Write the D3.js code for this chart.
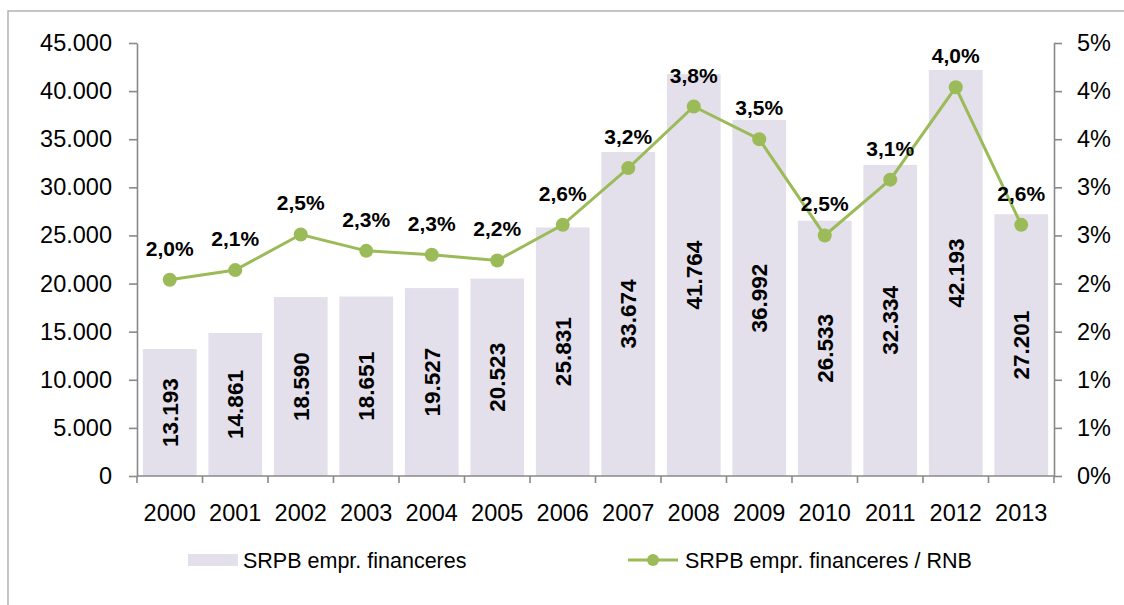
<!DOCTYPE html>
<html>
<head>
<meta charset="utf-8">
<script src="https://cdn.jsdelivr.net/npm/d3@7"></script>
<style>
  body { margin: 0; background: #fff; }
  svg { display: block; font-family: "Liberation Sans", Arial, sans-serif; }
  .axes path, .axes line { stroke: #898989; stroke-width: 1.6; }
  .axes text { font-size: 23.5px; fill: #000; }
  .barlab { font-size: 22.5px; font-weight: bold; }
  .pctlab { font-size: 21px; font-weight: bold; }
  .legend text { font-size: 21.5px; }
</style>
</head>
<body>
<div id="chart"></div>
<script>
// Data
const years = ["2000","2001","2002","2003","2004","2005","2006","2007","2008","2009","2010","2011","2012","2013"];
const srpb = [13193, 14861, 18590, 18651, 19527, 20523, 25831, 33674, 41764, 36992, 26533, 32334, 42193, 27201];
const srpbRnb = [2.04, 2.14, 2.51, 2.34, 2.30, 2.24, 2.61, 3.20, 3.84, 3.50, 2.50, 3.08, 4.04, 2.61];
const leftTicks = [0, 5000, 10000, 15000, 20000, 25000, 30000, 35000, 40000, 45000];
const rightTicks = [0, 0.5, 1, 1.5, 2, 2.5, 3, 3.5, 4, 4.5];
const rightTickLabels = ["0%", "1%", "1%", "2%", "2%", "3%", "3%", "4%", "4%", "5%"];
const seriesNames = ["SRPB empr. financeres", "SRPB empr. financeres / RNB"];

// chart size and plot edges
const W = 1124, H = 605;
const pl = 137, pr = 1054, pt = 43, pb = 476;

const locale = d3.formatLocale({ decimal: ",", thousands: ".", grouping: [3], currency: ["", "€"] });
const fmtInt = locale.format(",d");
const fmtPct = locale.format(".1f");

const svg = d3.select("#chart").append("svg")
    .attr("width", W)
    .attr("height", H);

// outer border of the chart area
svg.append("rect")
    .attr("x", 8).attr("y", 11)
    .attr("width", W + 20).attr("height", H + 20)
    .attr("fill", "none")
    .attr("stroke", "#a6a6a6")
    .attr("stroke-width", 1.3);

// Scales
const x = d3.scaleBand().domain(years).range([pl, pr])
    .paddingInner(0.18).paddingOuter(0.09);
const y = d3.scaleLinear().domain([0, 45000]).range([pb, pt]);
const y2 = d3.scaleLinear().domain([0, 4.5]).range([pb, pt]);

// Bars
svg.selectAll(".bar")
    .data(srpb)
    .join("rect")
    .attr("class", "bar")
    .attr("x", (d, i) => x(years[i]))
    .attr("y", d => y(d))
    .attr("width", x.bandwidth())
    .attr("height", d => y(0) - y(d))
    .attr("fill", "#e3dfeb");

// Bar labels, rotated, centred in bar
svg.selectAll(".barlab")
    .data(srpb)
    .join("text")
    .attr("class", "barlab")
    .attr("text-anchor", "middle")
    .attr("dy", "0.36em")
    .attr("transform", (d, i) => `translate(${x(years[i]) + x.bandwidth() / 2}, ${(y(d) + y(0)) / 2}) rotate(-90)`)
    .text(d => fmtInt(d));

// Left axis
svg.append("g")
    .attr("class", "axes")
    .attr("transform", `translate(${pl},0)`)
    .call(d3.axisLeft(y).tickValues(leftTicks).tickSize(8).tickSizeOuter(0).tickPadding(17).tickFormat(fmtInt));

// Right axis
svg.append("g")
    .attr("class", "axes")
    .attr("transform", `translate(${pr},0)`)
    .call(d3.axisRight(y2).tickValues(rightTicks).tickSize(8).tickSizeOuter(0).tickPadding(15)
        .tickFormat((d, i) => rightTickLabels[i]));

// Bottom axis
const xAxis = svg.append("g")
    .attr("class", "axes")
    .attr("transform", `translate(0,${pb})`)
    .call(d3.axisBottom(x).tickSize(0).tickSizeOuter(0).tickPadding(28));
xAxis.select(".domain").attr("d", `M${pl},0H${pr}`);
// tick marks at category boundaries
const bounds = years.map(d => x(d) - x.step() * x.paddingInner() / 2).concat([pr]);
bounds[0] = pl;
xAxis.selectAll(".bound")
    .data(bounds)
    .join("line")
    .attr("class", "bound")
    .attr("x1", d => d).attr("x2", d => d)
    .attr("y1", 0).attr("y2", 7);

// Line
const line = d3.line()
    .x((d, i) => x(years[i]) + x.bandwidth() / 2)
    .y(d => y2(d));

svg.append("path")
    .datum(srpbRnb)
    .attr("fill", "none")
    .attr("stroke", "#9bbb59")
    .attr("stroke-width", 3)
    .attr("d", line);

svg.selectAll(".dot")
    .data(srpbRnb)
    .join("circle")
    .attr("class", "dot")
    .attr("cx", (d, i) => x(years[i]) + x.bandwidth() / 2)
    .attr("cy", d => y2(d))
    .attr("r", 7)
    .attr("fill", "#9bbb59");

svg.selectAll(".pctlab")
    .data(srpbRnb)
    .join("text")
    .attr("class", "pctlab")
    .attr("text-anchor", "middle")
    .attr("x", (d, i) => x(years[i]) + x.bandwidth() / 2)
    .attr("y", d => y2(d) - 24)
    .text(d => fmtPct(d) + "%");

// Legend
const legend = svg.append("g").attr("class", "legend");
legend.append("rect")
    .attr("x", 188).attr("y", 554)
    .attr("width", 50).attr("height", 12)
    .attr("fill", "#e3dfeb");
legend.append("text")
    .attr("x", 243).attr("y", 568)
    .text(seriesNames[0]);
legend.append("line")
    .attr("x1", 628).attr("x2", 678)
    .attr("y1", 560).attr("y2", 560)
    .attr("stroke", "#9bbb59").attr("stroke-width", 3);
legend.append("circle")
    .attr("cx", 653).attr("cy", 560).attr("r", 6)
    .attr("fill", "#9bbb59");
legend.append("text")
    .attr("x", 685).attr("y", 568)
    .text(seriesNames[1]);
</script>
</body>
</html>
